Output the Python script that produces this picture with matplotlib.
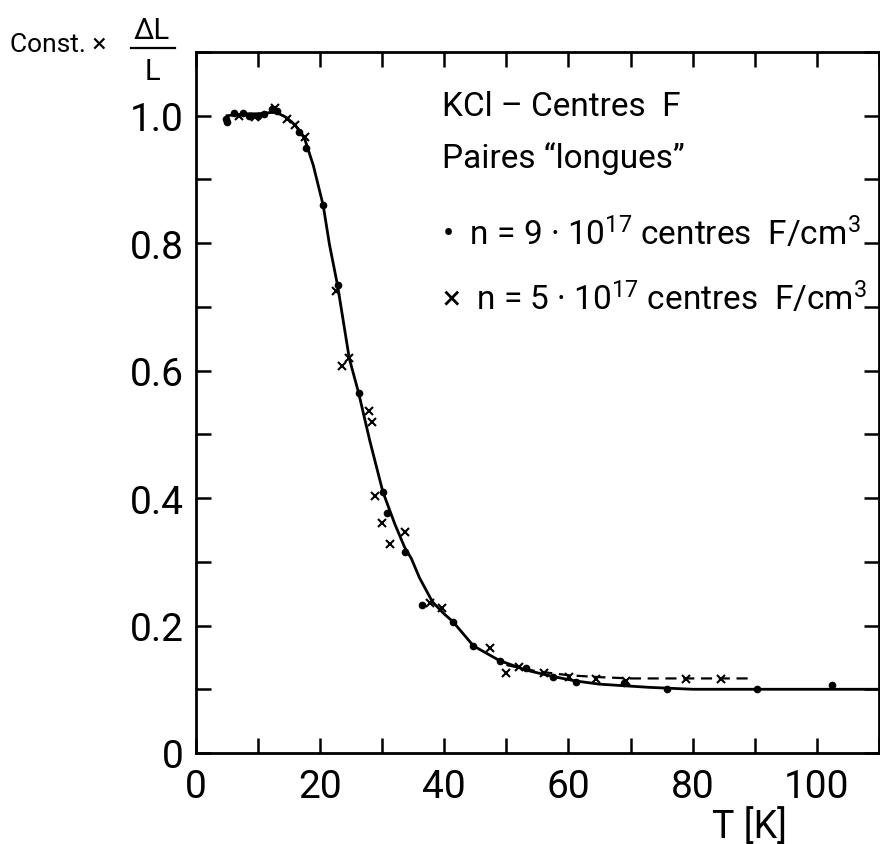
import matplotlib
matplotlib.use("Agg")
import matplotlib.pyplot as plt
from matplotlib.lines import Line2D
from matplotlib.ticker import MultipleLocator, FuncFormatter

plt.rcParams['font.family'] = ['Roboto', 'DejaVu Sans']
plt.rcParams['mathtext.fontset'] = 'custom'
plt.rcParams['mathtext.rm'] = 'Roboto'
plt.rcParams['mathtext.it'] = 'Roboto'

# ---- data ----
# n = 9e17 centres F/cm3 (dots)
t_dots = [4.9, 5.0, 6.2, 7.5, 8.6, 10.0, 11.0, 12.3, 13.0, 16.6, 17.8, 20.5, 22.8,
          26.2, 30.1, 30.8, 33.6, 36.4, 41.4, 44.7, 48.9, 53.2, 57.5, 61.2, 69.0,
          75.9, 90.4, 102.5]
y_dots = [0.995, 0.99, 1.005, 1.005, 1.0, 1.0, 1.002, 1.01, 1.008, 0.975, 0.95, 0.86, 0.735,
          0.565, 0.41, 0.376, 0.315, 0.233, 0.206, 0.168, 0.145, 0.133, 0.12, 0.111, 0.11,
          0.1, 0.1, 0.106]

# n = 5e17 centres F/cm3 (crosses)
t_cross = [7.0, 9.5, 12.8, 14.6, 16.0, 17.5, 22.6, 23.6, 24.7, 27.9, 28.4, 28.8, 30.0,
           31.2, 33.6, 37.7, 39.7, 47.3, 50.0, 52.0, 56.0, 60.1, 64.4, 69.2, 79.0, 84.5]
y_cross = [1.0, 0.998, 1.012, 0.995, 0.985, 0.967, 0.725, 0.607, 0.62, 0.536, 0.519, 0.404, 0.361,
           0.328, 0.347, 0.235, 0.228, 0.165, 0.125, 0.135, 0.126, 0.119, 0.116, 0.113, 0.116, 0.116]

# solid curve
t_fit = [5, 8, 10, 12, 13, 14.6, 16, 17.5, 18.9, 20.5, 21.5, 22.8, 24.7, 26.2, 28, 30.1,
         32, 33.6, 34.7, 36, 38.1, 40, 41.4, 44.7, 48.9, 53.2, 57.5, 61.2, 65, 73, 80, 90, 110]
y_fit = [1.0, 1.003, 1.003, 1.005, 1.005, 0.997, 0.985, 0.964, 0.922, 0.859, 0.798, 0.734,
         0.619, 0.565, 0.49, 0.41, 0.36, 0.323, 0.305, 0.275, 0.237, 0.218, 0.206, 0.168,
         0.145, 0.13, 0.12, 0.113, 0.108, 0.103, 0.1, 0.1, 0.1]

# dashed curve (crosses, high temperature)
t_dash = [50, 55, 60, 65, 70, 80, 89]
y_dash = [0.138, 0.128, 0.122, 0.119, 0.117, 0.117, 0.117]

fig = plt.figure(figsize=(8.8, 8.45), dpi=100)
ax = fig.add_axes([0.2227, 0.1077, 0.776, 0.8296])

ax.plot(t_fit, y_fit, '-', color='black', lw=2)
ax.plot(t_dash, y_dash, '--', color='black', lw=1.6, dashes=(5, 3))
ax.plot(t_dots, y_dots, 'o', color='black', ms=4.5)
ax.plot(t_cross, y_cross, 'x', color='black', ms=5.5, mew=1.5)

ax.set_xlim(0, 110)
ax.set_ylim(0, 1.1)

ax.xaxis.set_major_locator(MultipleLocator(20))
ax.xaxis.set_minor_locator(MultipleLocator(10))
ax.yaxis.set_major_locator(MultipleLocator(0.2))
ax.yaxis.set_minor_locator(MultipleLocator(0.1))
ax.yaxis.set_major_formatter(FuncFormatter(lambda v, p: '0' if abs(v) < 1e-9 else '%.1f' % v))

ax.tick_params(which='both', direction='in', length=11, width=1.8,
               top=True, right=True, labelsize=28)
ax.tick_params(axis='x', pad=11)
ax.tick_params(axis='y', pad=9)
for s in ax.spines.values():
    s.set_linewidth(2)

# annotation block
fs = 24
ax.text(0.36, 0.910, 'KCl – Centres  F', transform=ax.transAxes, fontsize=fs)
ax.text(0.36, 0.836, 'Paires “longues”', transform=ax.transAxes, fontsize=fs)
ax.text(0.36, 0.726, '•  n = 9 · 10$^{17}$ centres  F/cm$^{3}$', transform=ax.transAxes, fontsize=fs)
ax.text(0.36, 0.633, '×  n = 5 · 10$^{17}$ centres  F/cm$^{3}$', transform=ax.transAxes, fontsize=fs)

# axis labels
ax.text(0.811, -0.104, 'T [K]', transform=ax.transAxes, fontsize=27, ha='center', va='center')
fig.text(0.011, 1 - 45 / 845, 'Const. ×', fontsize=19, va='center')
fig.text(152 / 880, 1 - 31 / 845, 'ΔL', fontsize=21, ha='center', va='center')
fig.text(152 / 880, 1 - 72 / 845, 'L', fontsize=21, ha='center', va='center')
fig.add_artist(Line2D([131 / 880, 175 / 880], [1 - 49 / 845, 1 - 49 / 845],
                      color='black', lw=1.6, transform=fig.transFigure))

fig.savefig('out.png', dpi=100)
